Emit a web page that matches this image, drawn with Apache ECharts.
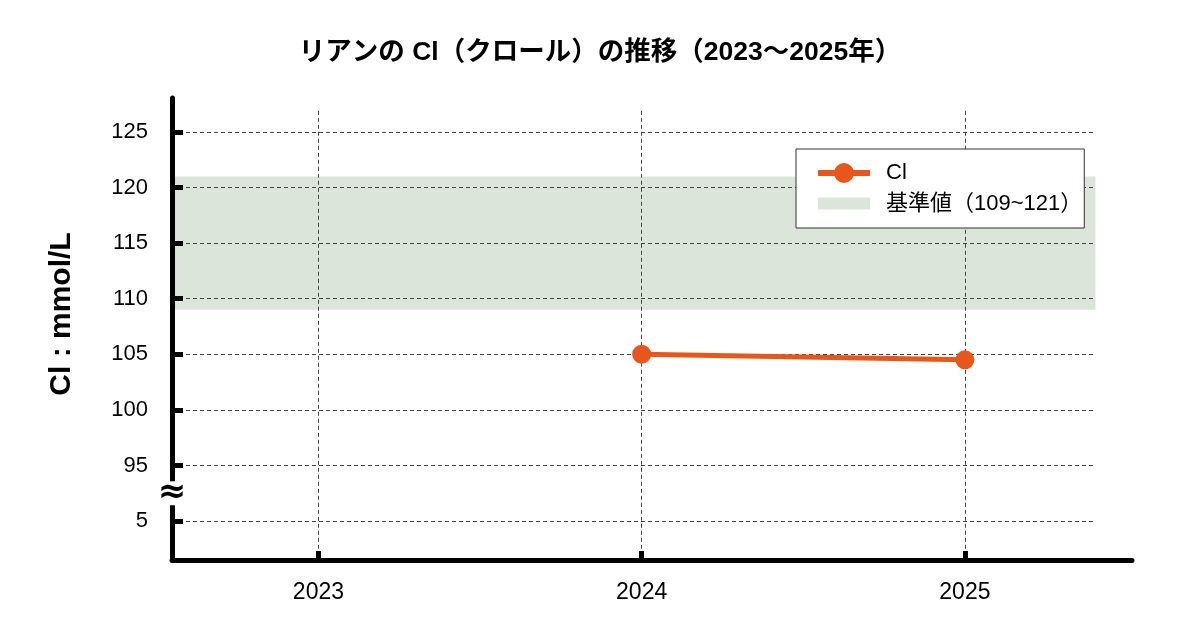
<!DOCTYPE html>
<html><head><meta charset="utf-8">
<script src="https://cdn.jsdelivr.net/npm/echarts@6/dist/echarts.min.js"></script>
<style>html,body{margin:0;padding:0;background:#fff}#c{width:1200px;height:630px}</style>
</head><body><div id="c"></div>
<script>
// ---- data ----
const titleText = 'リアンの Cl（クロール）の推移（2023〜2025年）';
const yAxisName = 'Cl : mmol/L';
const seriesName = 'Cl';
const refName = '基準値（109~121）';
const xYears = [2023, 2024, 2025];
const dataYears = [2024, 2025];
const clValues = [105, 104.5];
const yTickLabels = [5, 95, 100, 105, 110, 115, 120, 125];
const refLow = 109;
const refHigh = 121;

// ---- broken axis mapping: values below the break are moved up next to 95 ----
const BREAK_SHIFT = 85;
const toAxis = v => (v < 50 ? v + BREAK_SHIFT : v);
const yTickPos = yTickLabels.map(toAxis);

const X_MIN = 2022.547, X_MAX = 2025.517, X_END = 2025.404;
const Y_MIN = 86.5, Y_MAX = 128.05, V_TOP = 126.9;
const FONT = "'Liberation Sans','Noto Sans CJK JP',sans-serif";
const LINE_COLOR = '#E9561B';
const BAND_COLOR = '#DBE5D9';
const GRID_LINE = { color: '#444', width: 1, type: [4, 3] };

const hLines = yTickPos.map(v => [{ coord: [X_MIN, v] }, { coord: [X_END, v] }]);
const vLines = xYears.map(x => [{ coord: [x, V_TOP] }, { coord: [x, Y_MIN] }]);

const chart = echarts.init(document.getElementById('c'), null, { renderer: 'canvas' });
chart.setOption({
  animation: false,
  backgroundColor: '#fff',
  textStyle: { fontFamily: FONT },
  title: {
    text: titleText, left: 'center', top: 34,
    textStyle: { fontFamily: FONT, fontSize: 26.5, fontWeight: 'bold', color: '#000' }
  },
  legend: {
    orient: 'vertical', left: 796, top: 149,
    padding: [13, 2, 12, 19], itemGap: 7,
    itemWidth: 52, itemHeight: 25,
    borderColor: '#333', borderWidth: 1, backgroundColor: '#fff',
    textStyle: { fontFamily: FONT, fontSize: 22, color: '#000', padding: [0, 0, 0, 11] },
    data: [
      { name: seriesName, lineStyle: { width: 6, color: LINE_COLOR } },
      { name: refName, icon: 'path://M0,0M52,25M0,6.5h52v12h-52z', itemStyle: { color: BAND_COLOR } }
    ],
    z: 20
  },
  grid: { left: 172, right: 68, top: 98, bottom: 70, containLabel: false },
  xAxis: {
    type: 'value', min: X_MIN, max: X_MAX, z: 10,
    axisLine: { show: true, lineStyle: { color: '#000', width: 5 } },
    axisTick: { show: true, inside: true, length: 9, customValues: xYears, lineStyle: { color: '#000', width: 5 } },
    axisLabel: { customValues: xYears, margin: 21, fontSize: 23, color: '#000', fontFamily: FONT, formatter: v => String(v) },
    splitLine: { show: false }
  },
  yAxis: {
    type: 'value', min: Y_MIN, max: Y_MAX, z: 10,
    name: yAxisName, nameLocation: 'middle', nameGap: 95, nameRotate: 90,
    nameTextStyle: { fontFamily: FONT, fontSize: 30, fontWeight: 'bold', color: '#000', padding: [0, 0, 0, 30] },
    axisLine: { show: true, lineStyle: { color: '#000', width: 5 } },
    axisTick: { show: true, inside: true, length: 11, customValues: yTickPos, lineStyle: { color: '#000', width: 5 } },
    axisLabel: {
      customValues: yTickPos, margin: 24, fontSize: 22, color: '#000', fontFamily: FONT,
      formatter: v => { const i = yTickPos.indexOf(v); return i >= 0 ? String(yTickLabels[i]) : ''; }
    },
    splitLine: { show: false }
  },
  series: [
    {
      name: refName, type: 'line', data: [], z: 1,
      itemStyle: { color: BAND_COLOR }, lineStyle: { width: 0 },
      markArea: {
        silent: true, itemStyle: { color: BAND_COLOR },
        data: [[{ coord: [X_MIN, refLow] }, { coord: [X_END, refHigh] }]]
      }
    },
    {
      name: 'grid', type: 'line', data: [], z: 2, silent: true,
      markLine: {
        silent: true, symbol: ['none', 'none'], label: { show: false },
        lineStyle: GRID_LINE, emphasis: { disabled: true },
        data: hLines.concat(vLines)
      }
    },
    {
      name: seriesName, type: 'line', z: 5,
      data: dataYears.map((y, i) => [y, toAxis(clValues[i])]),
      symbol: 'circle', symbolSize: 19,
      itemStyle: { color: LINE_COLOR, borderWidth: 0 },
      lineStyle: { color: LINE_COLOR, width: 5 }
    }
  ]
});

// axis break mark between 5 and 95
const p = chart.convertToPixel({ xAxisIndex: 0, yAxisIndex: 0 }, [X_MIN, (yTickPos[0] + yTickPos[1]) / 2]);
chart.setOption({
  graphic: [
    { type: 'rect', z: 100, shape: { x: p[0] - 6, y: p[1] - 12, width: 12, height: 24 }, style: { fill: '#fff' } },
    { type: 'text', z: 101, x: p[0], y: p[1], style: { text: '≈', fontSize: 34, fontWeight: 'bold', fontFamily: "'DejaVu Sans',sans-serif", fill: '#000', align: 'center', verticalAlign: 'middle' } }
  ]
});
</script></body></html>
